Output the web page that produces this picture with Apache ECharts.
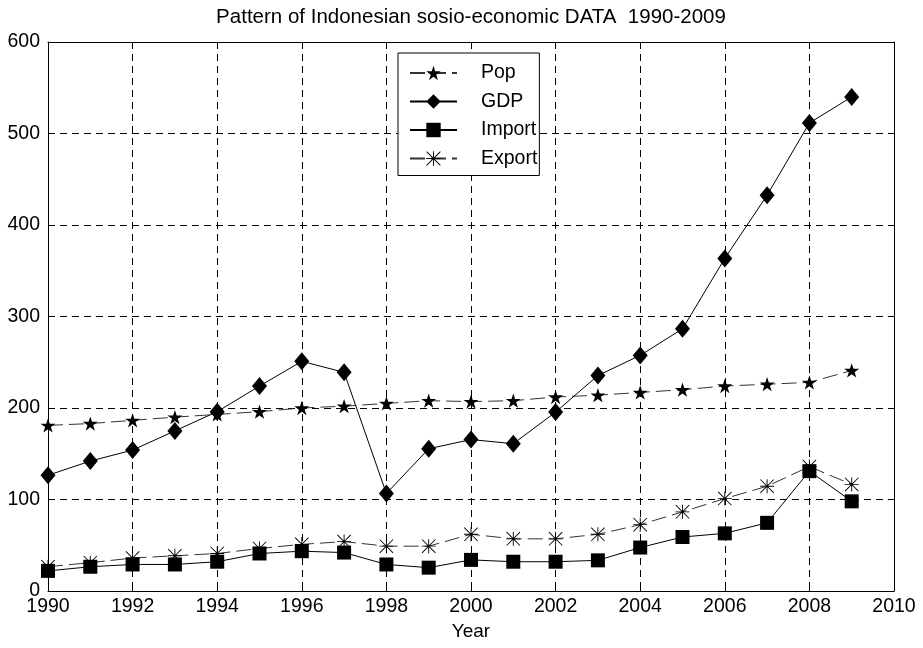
<!DOCTYPE html>
<html>
<head>
<meta charset="utf-8">
<script src="https://cdn.jsdelivr.net/npm/echarts@6/dist/echarts.min.js"></script>
<style>
  html, body { margin: 0; padding: 0; background: #fff; }
  #chart { width: 923px; height: 648px; }
</style>
</head>
<body>
<div id="chart"></div>
<script>
// Indonesian socio-economic indicators, 1990-2009
const years = [1990, 1991, 1992, 1993, 1994, 1995, 1996, 1997, 1998, 1999,
               2000, 2001, 2002, 2003, 2004, 2005, 2006, 2007, 2008, 2009];
const pop    = [181, 183, 186.5, 190, 193, 196, 200, 202, 205, 208,
                207, 208, 212, 214, 217, 220, 224, 226, 228, 241];
const gdp    = [126.5, 142, 154, 175, 196, 224, 251, 239, 106.5, 155.5,
                165.5, 161, 195.5, 235.5, 257.5, 286.5, 363.5, 432.5, 511.5, 540];
const imports = [22, 26.5, 29, 29, 32, 41, 43.5, 42, 29, 25.5,
                 34, 32, 32, 33.5, 47.5, 59, 63, 74.5, 131, 98];
const exports = [26.5, 31, 36, 38.5, 41, 46.5, 51, 54, 49, 49,
                 62, 57, 57, 62, 72.5, 86.5, 101, 114.5, 136, 116.5];
const seriesNames = ['Pop', 'GDP', 'Import', 'Export'];

// Marker shapes
const STAR = 'path://M10,0 L12.245,6.91 L19.511,6.91 L13.633,11.18 L15.878,18.09 L10,13.82 L4.122,18.09 L6.367,11.18 L0.489,6.91 L7.755,6.91 Z';
const ASTERISK = 'path://M9.35,0 L10.65,0 L10.65,20 L9.35,20 Z M0,9.35 L20,9.35 L20,10.65 L0,10.65 Z ' +
                 'M0,0.9 L0.9,0 L20,19.1 L19.1,20 Z M19.1,0 L20,0.9 L0.9,20 L0,19.1 Z';

const pairs = vals => years.map((y, i) => [y, vals[i]]);
const FONT = 'Liberation Sans, Arial, Helvetica, sans-serif';

function makeSeries(name, vals, symbol, size, dashed) {
  return {
    name: name,
    type: 'line',
    data: pairs(vals),
    symbol: symbol,
    symbolSize: size,
    symbolKeepAspect: true,
    showSymbol: true,
    animation: false,
    itemStyle: { color: '#000' },
    lineStyle: {
      color: dashed ? '#333' : '#000',
      width: 1,
      type: dashed ? [15, 6] : 'solid'
    },
    emphasis: { disabled: true }
  };
}

const chart = echarts.init(document.getElementById('chart'), null, { renderer: 'canvas' });

const gridLine = { show: true, lineStyle: { color: '#000', width: 1, type: [7, 5] } };

chart.setOption({
  backgroundColor: '#fff',
  textStyle: { fontFamily: FONT },
  title: {
    text: 'Pattern of Indonesian sosio-economic DATA  1990-2009',
    left: 471,
    textAlign: 'center',
    top: 7,
    padding: 0,
    textStyle: { fontFamily: FONT, fontSize: 20.5, fontWeight: 'normal', color: '#000' }
  },
  legend: {
    orient: 'vertical',
    left: 398,
    top: 53,
    padding: [10, 2, 7, 11],
    itemWidth: 47,
    itemHeight: 18,
    itemGap: 8.5,
    borderColor: '#000',
    borderWidth: 1,
    backgroundColor: '#fff',
    data: seriesNames,
    textStyle: { fontFamily: FONT, fontSize: 19.5, color: '#000', lineHeight: 19, padding: [0, 0, 0, 19] }
  },
  grid: { left: 48, right: 29, top: 42, bottom: 57, containLabel: false },
  xAxis: [{
    type: 'value',
    min: 1990, max: 2010, interval: 2,
    name: 'Year',
    nameLocation: 'middle',
    nameGap: 31,
    nameTextStyle: { fontFamily: FONT, fontSize: 19, color: '#000' },
    axisLine: { show: true, onZero: false, lineStyle: { color: '#000', width: 1 } },
    axisTick: { show: true, inside: true, length: 6, lineStyle: { color: '#000' } },
    axisLabel: { fontFamily: FONT, fontSize: 19.5, color: '#000', margin: 6, formatter: v => String(v) },
    splitLine: gridLine
  }, {
    type: 'value',
    position: 'top',
    min: 1990, max: 2010, interval: 2,
    axisLine: { show: true, onZero: false, lineStyle: { color: '#000', width: 1 } },
    axisTick: { show: true, inside: true, length: 6, lineStyle: { color: '#000' } },
    axisLabel: { show: false },
    splitLine: { show: false }
  }],
  yAxis: [{
    type: 'value',
    min: 0, max: 600, interval: 100,
    axisLine: { show: true, onZero: false, lineStyle: { color: '#000', width: 1 } },
    axisTick: { show: true, inside: true, length: 6, lineStyle: { color: '#000' } },
    axisLabel: { fontFamily: FONT, fontSize: 19.5, color: '#000', margin: 8 },
    splitLine: gridLine
  }, {
    type: 'value',
    position: 'right',
    min: 0, max: 600, interval: 100,
    axisLine: { show: true, onZero: false, lineStyle: { color: '#000', width: 1 } },
    axisTick: { show: true, inside: true, length: 6, lineStyle: { color: '#000' } },
    axisLabel: { show: false },
    splitLine: { show: false }
  }],
  series: [
    makeSeries('Pop', pop, STAR, 15, true),
    makeSeries('GDP', gdp, 'diamond', [15, 18], false),
    makeSeries('Import', imports, 'rect', 14, false),
    makeSeries('Export', exports, ASTERISK, 14, true)
  ]
});
</script>
</body>
</html>
